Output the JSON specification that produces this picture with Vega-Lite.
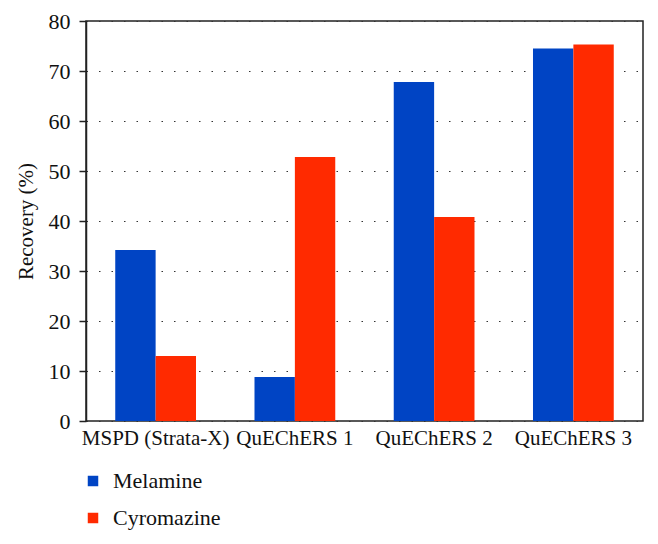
{
  "$schema": "https://vega.github.io/schema/vega-lite/v6.json",
  "width": 557,
  "height": 400,
  "autosize": {"type": "none"},
  "padding": {"left": 86, "top": 21, "right": 15, "bottom": 123},
  "background": "white",
  "config": {
    "font": "'Liberation Serif', 'Times New Roman', 'DejaVu Serif', serif",
    "view": {"stroke": "#222", "strokeWidth": 1.5}
  },
  "data": {
    "values": [
      {"method": "MSPD (Strata-X)", "compound": "Melamine", "recovery": 34.2},
      {"method": "MSPD (Strata-X)", "compound": "Cyromazine", "recovery": 13.0},
      {"method": "QuEChERS 1", "compound": "Melamine", "recovery": 8.8},
      {"method": "QuEChERS 1", "compound": "Cyromazine", "recovery": 52.8},
      {"method": "QuEChERS 2", "compound": "Melamine", "recovery": 67.8},
      {"method": "QuEChERS 2", "compound": "Cyromazine", "recovery": 40.8},
      {"method": "QuEChERS 3", "compound": "Melamine", "recovery": 74.5},
      {"method": "QuEChERS 3", "compound": "Cyromazine", "recovery": 75.3}
    ]
  },
  "mark": {"type": "bar"},
  "encoding": {
    "x": {
      "field": "method",
      "type": "nominal",
      "sort": null,
      "scale": {"paddingInner": 0.42, "paddingOuter": 0.21},
      "axis": {
        "title": null,
        "labelAngle": 0,
        "labelFontSize": 21,
        "labelColor": "#111",
        "ticks": false,
        "domain": false,
        "labelPadding": 6
      }
    },
    "xOffset": {"field": "compound", "type": "nominal", "sort": ["Melamine", "Cyromazine"]},
    "y": {
      "field": "recovery",
      "type": "quantitative",
      "scale": {"domain": [0, 80], "nice": false},
      "axis": {
        "title": "Recovery (%)",
        "titleFontSize": 21,
        "titleFontWeight": "normal",
        "titleColor": "#111",
        "titlePadding": 12,
        "values": [0, 10, 20, 30, 40, 50, 60, 70, 80],
        "labelFontSize": 22,
        "labelColor": "#111",
        "tickSize": 7,
        "tickColor": "#222",
        "tickWidth": 1.5,
        "domainColor": "#222",
        "domainWidth": 1.5,
        "labelPadding": 9,
        "grid": true,
        "gridColor": "#333",
        "gridDash": [1.5, 11],
        "gridWidth": 1.2
      }
    },
    "color": {
      "field": "compound",
      "type": "nominal",
      "sort": ["Melamine", "Cyromazine"],
      "scale": {"domain": ["Melamine", "Cyromazine"], "range": ["#0044c4", "#ff2a00"]},
      "legend": {
        "title": null,
        "orient": "none",
        "legendX": -4,
        "legendY": 449,
        "direction": "vertical",
        "symbolType": "square",
        "symbolSize": 110,
        "symbolStrokeWidth": 0,
        "labelFontSize": 22,
        "labelColor": "#111",
        "labelOffset": 9,
        "rowPadding": 15
      }
    }
  }
}
